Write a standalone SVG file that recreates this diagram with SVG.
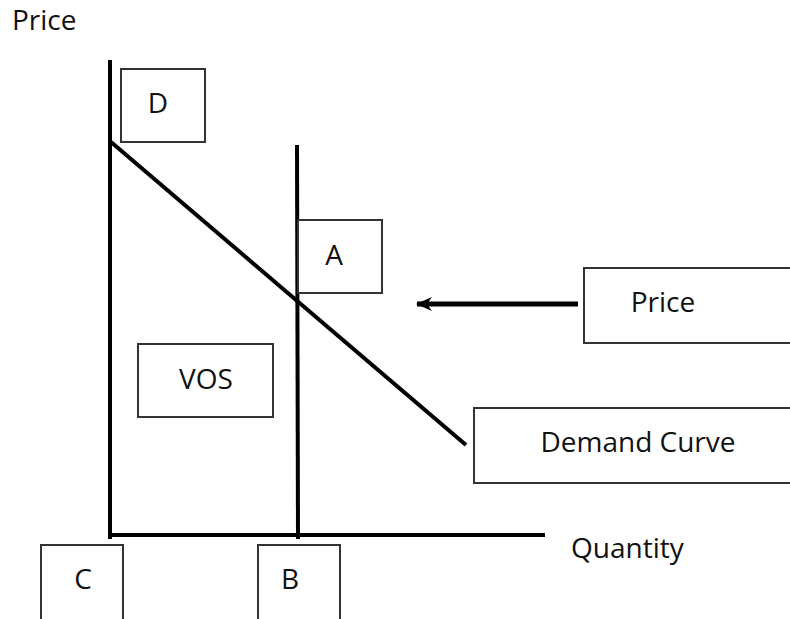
<svg xmlns="http://www.w3.org/2000/svg" width="790" height="619" viewBox="0 0 790 619">
<style>
.box{fill:#fff;stroke:#333;stroke-width:2}
.t{font-family:"Open Sans","Liberation Sans",sans-serif;font-size:28px;fill:#111}
.ax{stroke:#000;stroke-width:4;fill:none}
</style>
<defs>
<marker id="ah" markerWidth="16" markerHeight="14" refX="15" refY="7" orient="auto" markerUnits="userSpaceOnUse" viewBox="0 0 16 14">
<path d="M16,7 L0,0 L5,7 L0,14 Z" fill="#000"/>
</marker>
</defs>
<rect width="790" height="619" fill="#fff"/>
<g id="connectors">
<line class="ax" x1="110" y1="60" x2="110" y2="539"/>
<line class="ax" x1="108" y1="535" x2="545" y2="535"/>
<line class="ax" x1="297" y1="145" x2="298" y2="539"/>
<line class="ax" x1="111" y1="142" x2="466" y2="445"/>
<line stroke="#000" stroke-width="5" x1="578" y1="304" x2="417" y2="304" marker-end="url(#ah)"/>
</g>
<g id="label-price-axis"><text class="t" x="12" y="30">Price</text></g>
<g id="label-quantity"><text class="t" x="571" y="558">Quantity</text></g>
<g id="node-D"><rect class="box" x="121" y="69" width="84" height="73"/><text class="t" x="158" y="113" text-anchor="middle">D</text></g>
<g id="node-A"><rect class="box" x="298" y="220" width="84" height="73"/><text class="t" x="334" y="265" text-anchor="middle">A</text></g>
<g id="node-price"><rect class="box" x="584" y="268" width="210" height="75"/><text class="t" x="663" y="312" text-anchor="middle">Price</text></g>
<g id="node-demand"><rect class="box" x="474" y="408" width="320" height="75"/><text class="t" x="638" y="452" text-anchor="middle">Demand Curve</text></g>
<g id="node-VOS"><rect class="box" x="138" y="344" width="135" height="73"/><text class="t" x="206" y="389" text-anchor="middle">VOS</text></g>
<g id="node-C"><rect class="box" x="41" y="545" width="82" height="78"/><text class="t" x="83" y="589" text-anchor="middle">C</text></g>
<g id="node-B"><rect class="box" x="258" y="545" width="82" height="78"/><text class="t" x="290" y="589" text-anchor="middle">B</text></g>
</svg>
